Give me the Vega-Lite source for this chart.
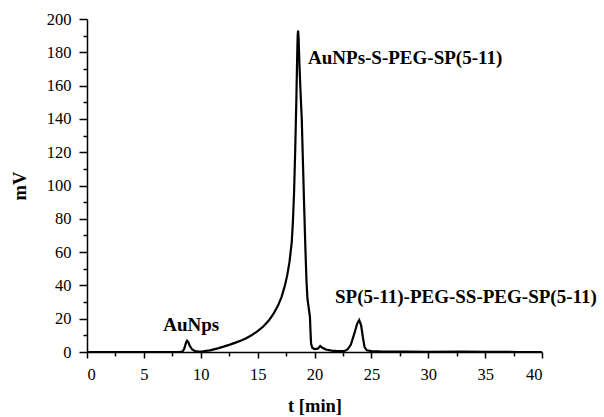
{
  "$schema": "https://vega.github.io/schema/vega-lite/v6.json",
  "width": 455,
  "height": 333,
  "autosize": "none",
  "padding": {"left": 87, "top": 19, "right": 62, "bottom": 65},
  "background": "white",
  "config": {
    "view": {"stroke": null},
    "font": "Liberation Serif",
    "axis": {
      "grid": false,
      "domainColor": "black",
      "domainWidth": 1.5,
      "tickColor": "black",
      "tickWidth": 1.5,
      "labelColor": "black",
      "titleColor": "black",
      "labelFont": "Liberation Serif",
      "titleFont": "Liberation Serif",
      "labelFontSize": 16.5,
      "titleFontSize": 18.5,
      "titleFontWeight": "bold"
    }
  },
  "datasets": {
    "trace": [
      {"t": 0, "v": 0}, {"t": 2, "v": 0}, {"t": 4, "v": 0}, {"t": 6, "v": 0}, {"t": 8, "v": 0},
      {"t": 8.4, "v": 0.2}, {"t": 8.55, "v": 2}, {"t": 8.7, "v": 5.5}, {"t": 8.8, "v": 6.8},
      {"t": 8.9, "v": 6}, {"t": 9.05, "v": 3.5}, {"t": 9.25, "v": 1.5}, {"t": 9.5, "v": 0.6},
      {"t": 9.8, "v": 0.3}, {"t": 10.2, "v": 0.4}, {"t": 10.8, "v": 1}, {"t": 11.5, "v": 2.2},
      {"t": 12, "v": 3.2}, {"t": 12.5, "v": 4.3}, {"t": 13, "v": 5.5}, {"t": 13.5, "v": 6.8},
      {"t": 14, "v": 8.3}, {"t": 14.5, "v": 10.2}, {"t": 15, "v": 12.5}, {"t": 15.5, "v": 15.3},
      {"t": 16, "v": 19}, {"t": 16.4, "v": 23}, {"t": 16.8, "v": 28}, {"t": 17.1, "v": 33},
      {"t": 17.4, "v": 40}, {"t": 17.6, "v": 46}, {"t": 17.8, "v": 54}, {"t": 18.0, "v": 66},
      {"t": 18.1, "v": 78}, {"t": 18.2, "v": 95}, {"t": 18.3, "v": 120}, {"t": 18.4, "v": 150},
      {"t": 18.47, "v": 175}, {"t": 18.52, "v": 190}, {"t": 18.56, "v": 193}, {"t": 18.6, "v": 189},
      {"t": 18.68, "v": 172}, {"t": 18.78, "v": 155}, {"t": 18.88, "v": 140}, {"t": 19.0, "v": 110},
      {"t": 19.08, "v": 90}, {"t": 19.2, "v": 62}, {"t": 19.3, "v": 42}, {"t": 19.38, "v": 32},
      {"t": 19.5, "v": 26}, {"t": 19.6, "v": 21}, {"t": 19.65, "v": 12}, {"t": 19.7, "v": 5},
      {"t": 19.8, "v": 2.5}, {"t": 20.0, "v": 1.8}, {"t": 20.3, "v": 2}, {"t": 20.5, "v": 3.6},
      {"t": 20.7, "v": 2.5}, {"t": 21, "v": 1.5}, {"t": 21.5, "v": 0.8}, {"t": 22, "v": 0.5},
      {"t": 22.6, "v": 0.5}, {"t": 22.9, "v": 1.5}, {"t": 23.2, "v": 4.5}, {"t": 23.5, "v": 11},
      {"t": 23.75, "v": 17}, {"t": 23.93, "v": 19.2}, {"t": 24.1, "v": 16}, {"t": 24.25, "v": 9},
      {"t": 24.4, "v": 3}, {"t": 24.6, "v": 1}, {"t": 25, "v": 0.5}, {"t": 26, "v": 0.3},
      {"t": 28, "v": 0.2}, {"t": 30, "v": 0.1}, {"t": 33, "v": 0.2}, {"t": 35, "v": 0.1},
      {"t": 38, "v": 0}, {"t": 40, "v": 0}
    ],
    "labels": [
      {"label": "AuNps", "t": 6.7, "v": 12.6},
      {"label": "AuNPs-S-PEG-SP(5-11)", "t": 19.43, "v": 173},
      {"label": "SP(5-11)-PEG-SS-PEG-SP(5-11)", "t": 21.8, "v": 29.5}
    ]
  },
  "layer": [
    {
      "data": {"name": "trace"},
      "mark": {"type": "line", "color": "black", "strokeWidth": 2.2, "clip": true},
      "encoding": {
        "x": {
          "field": "t", "type": "quantitative",
          "scale": {"domain": [0, 40], "nice": false, "zero": false},
          "axis": {
            "orient": "bottom",
            "title": "t [min]",
            "values": [0, 5, 10, 15, 20, 25, 30, 35, 40],
            "tickSize": 6,
            "labelPadding": 8,
            "titleBaseline": "alphabetic",
            "titleY": 59
          }
        },
        "y": {
          "field": "v", "type": "quantitative",
          "scale": {"domain": [0, 200], "nice": false},
          "axis": {
            "orient": "left",
            "title": "mV",
            "values": [0, 20, 40, 60, 80, 100, 120, 140, 160, 180, 200],
            "tickSize": 8,
            "labelPadding": 8,
            "titleBaseline": "middle",
            "titleX": -68
          }
        }
      }
    },
    {
      "data": {"name": "labels"},
      "mark": {"type": "text", "align": "left", "baseline": "alphabetic", "font": "Liberation Serif", "fontWeight": "bold", "fontSize": 19, "color": "black"},
      "encoding": {
        "x": {
          "field": "t", "type": "quantitative",
          "axis": {
            "orient": "bottom", "title": null, "labels": false, "domain": false,
            "values": [2.5, 7.5, 12.5, 17.5, 22.5, 27.5, 32.5, 37.5],
            "tickSize": 4
          }
        },
        "y": {
          "field": "v", "type": "quantitative",
          "axis": {
            "orient": "left", "title": null, "labels": false, "domain": false,
            "values": [10, 30, 50, 70, 90, 110, 130, 150, 170, 190],
            "tickSize": 4
          }
        },
        "text": {"field": "label"}
      }
    }
  ],
  "resolve": {"axis": {"x": "independent", "y": "independent"}}
}
